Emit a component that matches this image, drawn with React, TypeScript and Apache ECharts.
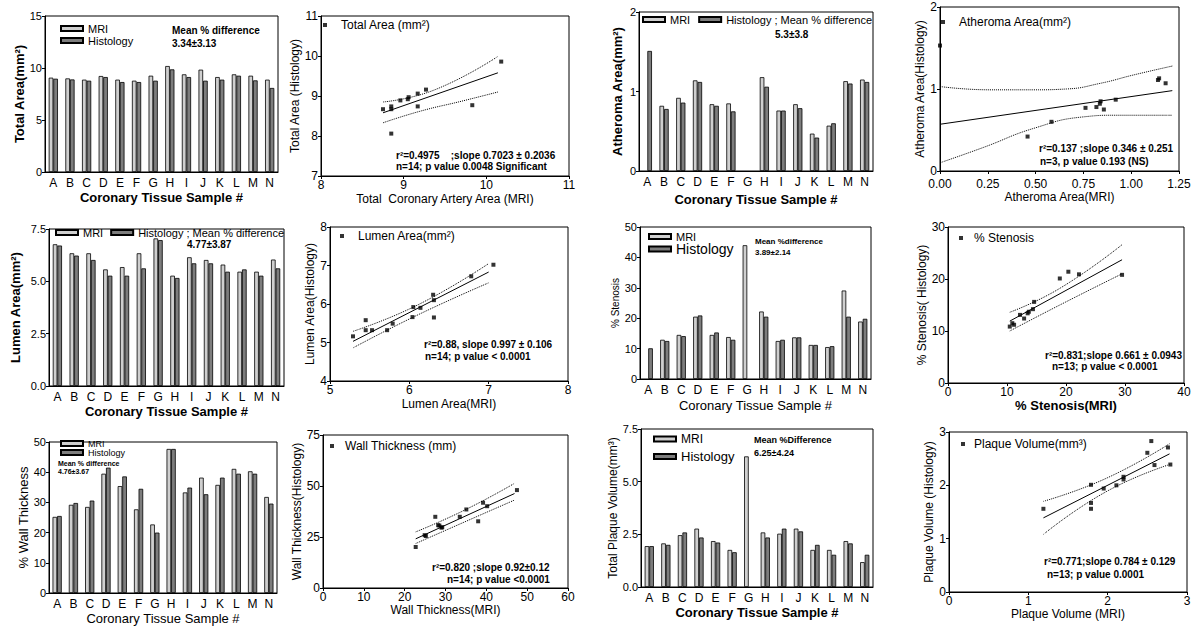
import React, { useEffect, useRef } from "react";
import * as echarts from "echarts";

const FONT = "'Liberation Sans', Arial, Helvetica, sans-serif";
const MRI_COLOR = "#cfcfcf";
const HIST_COLOR = "#7d7d7d";

const samples = ["A", "B", "C", "D", "E", "F", "G", "H", "I", "J", "K", "L", "M", "N"];

// ---- Total area ----
const totalAreaMRI = [9.07, 9.0, 8.88, 9.23, 8.88, 8.78, 9.26, 10.19, 9.39, 9.84, 9.13, 9.39, 9.26, 8.88];
const totalAreaHist = [8.97, 8.9, 8.78, 9.13, 8.65, 8.65, 8.78, 9.87, 9.13, 8.78, 8.88, 9.26, 8.81, 8.08];
const totalAreaPoints = [[8.75, 8.67], [8.85, 8.74], [8.85, 8.67], [8.85, 8.06], [8.96, 8.89], [9.05, 8.92], [9.06, 8.97], [9.17, 9.06], [9.17, 8.74], [9.27, 9.16], [9.83, 8.77], [10.18, 9.86]];
const totalAreaFit = [[8.75, 8.58], [10.14, 9.58]];
const totalAreaUpper = [[8.75, 8.85], [9.37, 9.15], [10.14, 9.99]];
const totalAreaLower = [[8.75, 8.33], [9.2, 8.62], [9.7, 8.87], [10.14, 9.1]];

// ---- Atheroma area ----
const atheromaMRI = [null, 0.82, 0.92, 1.14, 0.84, 0.85, null, 1.18, 0.76, 0.84, 0.47, 0.57, 1.13, 1.15];
const atheromaHist = [1.51, 0.78, 0.86, 1.12, 0.82, 0.75, null, 1.06, 0.76, 0.79, 0.42, 0.6, 1.1, 1.12];
const atheromaPoints = [[0, 1.53], [0.458, 0.42], [0.583, 0.6], [0.761, 0.77], [0.818, 0.78], [0.836, 0.82], [0.84, 0.85], [0.857, 0.75], [0.919, 0.87], [1.14, 1.11], [1.146, 1.13], [1.18, 1.07]];
const atheromaFit = [[0, 0.57], [1.215, 0.98]];
const atheromaUpper = [[0, 1.03], [0.26, 0.99], [0.49, 0.99], [0.66, 1.0], [0.84, 1.07], [1.01, 1.17], [1.215, 1.28]];
const atheromaLower = [[0, 0.1], [0.23, 0.29], [0.49, 0.52], [0.75, 0.66], [0.92, 0.68], [1.215, 0.68]];

// ---- Lumen area ----
const lumenMRI = [6.77, 6.34, 6.34, 5.57, 5.68, 6.34, 7.05, 5.27, 6.15, 6.02, 5.8, 5.46, 5.46, 6.04];
const lumenHist = [6.71, 6.23, 6.02, 5.27, 5.27, 5.62, 6.97, 5.16, 5.86, 5.86, 5.46, 5.57, 5.27, 5.62];
const lumenPoints = [[5.29, 5.16], [5.45, 5.58], [5.45, 5.32], [5.53, 5.32], [5.72, 5.32], [5.79, 5.49], [6.04, 5.66], [6.05, 5.92], [6.14, 5.9], [6.3, 6.24], [6.31, 6.1], [6.31, 5.65], [6.78, 6.72], [7.06, 7.02]];
const lumenFit = [[5.29, 5.03], [7.0, 6.83]];
const lumenUpper = [[5.29, 5.29], [6.11, 5.98], [7.0, 7.05]];
const lumenLower = [[5.29, 4.86], [6.11, 5.72], [7.0, 6.55]];

// ---- % Stenosis ----
const stenosisMRI = [null, 12.9, 14.5, 20.5, 14.5, 13.8, 44.0, 22.2, 12.5, 13.7, 11.2, 10.5, 29.1, 18.9];
const stenosisHist = [10.1, 12.5, 14.1, 20.9, 15.3, 12.9, null, 20.5, 12.9, 13.7, 11.2, 10.8, 20.5, 19.8];
const stenosisPoints = [[10.47, 10.85], [10.9, 11.5], [11.2, 11.2], [12.2, 13.1], [12.9, 12.4], [13.5, 13.4], [13.7, 13.7], [14.4, 14.2], [14.6, 15.6], [18.95, 20.1], [20.4, 21.4], [22.2, 20.9], [29.5, 20.8]];
const stenosisFit = [[10.47, 11.9], [29.5, 23.7]];
const stenosisUpper = [[10.47, 13.6], [18.95, 18.2], [29.5, 26.6]];
const stenosisLower = [[10.47, 10.0], [18.95, 15.0], [29.5, 21.0]];

// ---- % Wall thickness ----
const wallMRI = [25.2, 29.2, 28.5, 39.5, 35.4, 27.7, 22.7, 47.7, 33.3, 38.2, 35.8, 41.1, 40.3, 31.8];
const wallHist = [25.5, 29.8, 30.6, 41.5, 38.6, 34.5, 20.0, 47.7, 34.9, 32.7, 38.2, 39.5, 39.5, 29.6];
const wallPoints = [[22.7, 20.1], [24.9, 25.9], [25.2, 25.5], [27.5, 34.9], [28.2, 30.8], [28.5, 30.6], [29.0, 29.6], [29.2, 29.8], [33.5, 34.9], [35.1, 38.5], [38.0, 32.7], [39.2, 41.8], [40.2, 40.1], [47.5, 48.0]];
const wallFit = [[22.7, 24.1], [46.9, 46.3]];
const wallUpper = [[22.7, 27.5], [34.7, 38.2], [46.9, 51.3]];
const wallLower = [[22.7, 21.8], [34.7, 32.4], [46.9, 43.1]];

// ---- Plaque volume ----
const plaqueMRI = [1.94, 2.07, 2.46, 2.77, 2.18, 1.76, 6.2, 2.59, 2.53, 2.77, 1.76, 1.76, 2.18, 1.18];
const plaqueHist = [1.94, 2.0, 2.59, 2.35, 2.11, 1.65, null, 2.35, 2.77, 2.64, 2.0, 1.53, 2.07, 1.53];
const plaquePoints = [[1.19, 1.56], [1.79, 2.01], [1.79, 1.67], [1.79, 1.56], [1.95, 1.94], [2.11, 2.0], [2.2, 2.11], [2.2, 2.16], [2.5, 2.61], [2.55, 2.83], [2.59, 2.38], [2.76, 2.71], [2.79, 2.39]];
const plaqueFit = [[1.19, 1.39], [2.78, 2.59]];
const plaqueUpper = [[1.19, 1.7], [1.98, 2.13], [2.78, 2.78]];
const plaqueLower = [[1.19, 1.08], [1.98, 1.88], [2.78, 2.39]];

const barPanels: any[] = [
  {
    box: [45, 16, 233, 156], mri: totalAreaMRI, hist: totalAreaHist, yMax: 15, yInt: 5, yDec: 0,
    yName: "Total Area(mm²)", yGap: 13, yW: "bold", yS: 13,
    xName: "Coronary Tissue Sample #", xGap: 19, xW: "bold",
    legend: { left: 60, top: 23, orient: "vertical", itemGap: 1, fontSize: 11, histSize: 11 },
    notes: [["Mean % difference", 172, 30, 10], ["3.34±3.13", 172, 43, 10]],
  },
  {
    box: [639, 12, 234, 159], mri: atheromaMRI, hist: atheromaHist, yMax: 2, yInt: 1, yDec: 0,
    yName: "Atheroma Area(mm²)", yGap: 15, yW: "bold", yS: 13,
    xName: "Coronary Tissue Sample #", xGap: 22, xW: "bold",
    legend: { left: 642, top: 14, orient: "horizontal", itemGap: 8, fontSize: 11, histSize: 11, histLabel: "Histology ; Mean % difference" },
    notes: [["5.3±3.8", 775, 34, 10]],
  },
  {
    box: [49, 229, 235, 157], mri: lumenMRI, hist: lumenHist, yMax: 7.5, yInt: 2.5, yDec: 1,
    yName: "Lumen Area(mm²)", yGap: 27, yW: "bold", yS: 13,
    xName: "Coronary Tissue Sample #", xGap: 19, xW: "bold",
    legend: { left: 55, top: 227, orient: "horizontal", itemGap: 7, fontSize: 11, histSize: 11, histLabel: "Histology ; Mean % difference" },
    notes: [["4.77±3.87", 187, 244, 10]],
  },
  {
    box: [640, 227, 231, 152], mri: stenosisMRI, hist: stenosisHist, yMax: 50, yInt: 10, yDec: 0,
    yName: "% Stenosis", yGap: 20, yW: "normal", yS: 10,
    xName: "Coronary Tissue Sample #", xGap: 20, xW: "normal",
    legend: { left: 648, top: 231, orient: "vertical", itemGap: 0, fontSize: 11, histSize: 14 },
    notes: [["Mean %difference", 755, 241, 8], ["3.89±2.14", 755, 252, 8]],
  },
  {
    box: [49, 442, 228, 151], mri: wallMRI, hist: wallHist, yMax: 50, yInt: 10, yDec: 0,
    yName: "% Wall Thickness", yGap: 17, yW: "normal", yS: 13,
    xName: "Coronary Tissue Sample #", xGap: 19, xW: "normal",
    legend: { left: 60, top: 439, orient: "vertical", itemGap: 0, fontSize: 9, histSize: 9 },
    notes: [["Mean % difference", 58, 463, 7], ["4.76±3.67", 58, 471, 7]],
  },
  {
    box: [641, 429, 232, 158], mri: plaqueMRI, hist: plaqueHist, yMax: 7.5, yInt: 2.5, yDec: 1,
    yName: "Total Plaque Volume(mm³)", yGap: 20, yW: "normal", yS: 12,
    xName: "Coronary Tissue Sample #", xGap: 19, xW: "bold",
    legend: { left: 653, top: 433, orient: "vertical", itemGap: 5, fontSize: 12, histSize: 13 },
    notes: [["Mean %Difference", 754, 440, 9], ["6.25±4.24", 754, 453, 9]],
  },
];

const scatterPanels: any[] = [
  {
    box: [321, 16, 248, 160], x: [8, 11, 1, 0], y: [7, 11, 1, 0], xMargin: 3,
    xName: "Total  Coronary Artery Area (MRI)", xGap: 17, xW: "normal",
    yName: "Total Area (Histology)", yGap: 17,
    label: "Total Area (mm²)", points: totalAreaPoints, fit: totalAreaFit, upper: totalAreaUpper, lower: totalAreaLower,
    leg: [323, 19, 9],
    notes: [["r²=0.4975    ;slope 0.7023 ± 0.2036", 396, 155], ["n=14; p value 0.0048 Significant", 396, 166]],
  },
  {
    box: [940, 7, 239, 164], x: [0, 1.25, 0.25, 2], y: [0, 2, 1, 0], xMargin: 7,
    xName: "Atheroma Area(MRI)", xGap: 19, xW: "normal",
    yName: "Atheroma Area(Histology)", yGap: 7,
    label: "Atheroma Area(mm²)", points: atheromaPoints, fit: atheromaFit, upper: atheromaUpper, lower: atheromaLower,
    leg: [941, 16, 9],
    notes: [["r²=0.137 ;slope 0.346 ± 0.251", 1039, 148], ["n=3, p value 0.193 (NS)", 1040, 161]],
  },
  {
    box: [330, 227, 238, 154], x: [5, 8, 1, 0], y: [4, 8, 1, 0], xMargin: 3,
    xName: "Lumen Area(MRI)", xGap: 17, xW: "normal",
    yName: "Lumen Area(Histology)", yGap: 14,
    label: "Lumen Area(mm²)", points: lumenPoints, fit: lumenFit, upper: lumenUpper, lower: lumenLower,
    leg: [340, 230, 9],
    notes: [["r²=0.88, slope 0.997 ± 0.106", 424, 344], ["n=14; p value < 0.0001", 425, 356]],
  },
  {
    box: [948, 227, 236, 156], x: [0, 40, 10, 0], y: [0, 30, 10, 0], xMargin: 3,
    xName: "% Stenosis(MRI)", xGap: 15, xW: "bold",
    yName: "% Stenosis( Histology)", yGap: 17,
    label: "% Stenosis", points: stenosisPoints, fit: stenosisFit, upper: stenosisUpper, lower: stenosisLower,
    leg: [959, 232, 6],
    notes: [["r²=0.831;slope 0.661 ± 0.0943", 1045, 355], ["n=13; p value < 0.0001", 1052, 366]],
  },
  {
    box: [323, 435, 245, 153], x: [0, 60, 10, 0], y: [0, 75, 25, 0], xMargin: 3,
    xName: "Wall Thickness(MRI)", xGap: 14, xW: "normal",
    yName: "Wall Thickness(Histology)", yGap: 20,
    label: "Wall Thickness (mm)", points: wallPoints, fit: wallFit, upper: wallUpper, lower: wallLower,
    leg: [330, 440, 6],
    notes: [["r²=0.820 ;slope 0.92±0.12", 432, 567], ["n=14; p value <0.0001", 447, 579]],
  },
  {
    box: [949, 432, 238, 160], x: [0, 3, 1, 0], y: [0, 3, 1, 0], xMargin: 3,
    xName: "Plaque Volume (MRI)", xGap: 13, xW: "normal",
    yName: "Plaque Volume (Histology)", yGap: 11,
    label: "Plaque Volume(mm³)", points: plaquePoints, fit: plaqueFit, upper: plaqueUpper, lower: plaqueLower,
    leg: [961, 438, 4],
    notes: [["r²=0.771;slope 0.784 ± 0.129", 1044, 561], ["n=13; p value 0.0001", 1047, 574]],
  },
];

function buildOption() {
  const grid: any[] = [];
  const xAxis: any[] = [];
  const yAxis: any[] = [];
  const series: any[] = [];
  const legend: any[] = [];
  const graphic: any[] = [];

  const addText = (text: string, x: number, y: number, size: number, weight = "normal") =>
    graphic.push({
      type: "text", x, y, silent: true,
      style: { text, fontFamily: FONT, fontSize: size, fontWeight: weight, fill: "#000", align: "left", verticalAlign: "middle" },
    });

  const line = { show: true, lineStyle: { color: "#000", width: 1 } };
  const tick = { show: true, length: 3, lineStyle: { color: "#000", width: 1 } };
  const lbl = (size: number, margin: number, fmt?: any) => ({ color: "#000", fontFamily: FONT, fontSize: size, margin, formatter: fmt });
  const nts = (size: number, weight: string) => ({ color: "#000", fontFamily: FONT, fontSize: size, fontWeight: weight });
  const mkGrid = (b: number[]) => ({ left: b[0], top: b[1], width: b[2], height: b[3], show: true, borderColor: "#000", borderWidth: 1, backgroundColor: "transparent", containLabel: false });

  barPanels.forEach((p) => {
    const i = grid.length;
    grid.push(mkGrid(p.box));
    xAxis.push({
      gridIndex: i, type: "category", data: samples, boundaryGap: true,
      axisLine: line, axisTick: { show: false }, axisLabel: lbl(12, 5), splitLine: { show: false },
      name: p.xName, nameLocation: "middle", nameGap: p.xGap, nameTextStyle: nts(13, p.xW),
    });
    yAxis.push({
      gridIndex: i, type: "value", min: 0, max: p.yMax, interval: p.yInt,
      axisLine: line, axisTick: tick, axisLabel: lbl(11, 3, (v: number) => v.toFixed(p.yDec)), splitLine: { show: false },
      name: p.yName, nameLocation: "middle", nameGap: p.yGap, nameTextStyle: nts(p.yS, p.yW),
    });
    const common = { type: "bar", xAxisIndex: i, yAxisIndex: i, barWidth: 4.6, barGap: "0%", emphasis: { disabled: true } };
    series.push({ ...common, name: "MRI", data: p.mri, itemStyle: { color: MRI_COLOR, borderColor: "#000", borderWidth: 0.8 } });
    series.push({ ...common, name: "Histology", data: p.hist, itemStyle: { color: HIST_COLOR, borderColor: "#000", borderWidth: 0.8 } });
    const L = p.legend;
    legend.push({
      left: L.left, top: L.top, orient: L.orient, itemGap: L.itemGap, itemWidth: 22, itemHeight: 5, padding: 0,
      selectedMode: false,
      textStyle: { fontFamily: FONT, fontSize: L.fontSize, color: "#000" },
      formatter: (n: string) => (n === "Histology" && L.histLabel ? L.histLabel : n),
      data: [
        { name: "MRI", icon: "rect" },
        { name: "Histology", icon: "rect", textStyle: { fontSize: L.histSize } },
      ],
    });
    p.notes.forEach((n: any[]) => addText(n[0], n[1], n[2], n[3], "bold"));
  });

  scatterPanels.forEach((p) => {
    const i = grid.length;
    grid.push(mkGrid(p.box));
    xAxis.push({
      gridIndex: i, type: "value", min: p.x[0], max: p.x[1], interval: p.x[2],
      axisLine: line, axisTick: tick, axisLabel: lbl(12, p.xMargin, (v: number) => v.toFixed(p.x[3])), splitLine: { show: false },
      name: p.xName, nameLocation: "middle", nameGap: p.xGap, nameTextStyle: nts(p.xW === "bold" ? 13 : 12, p.xW),
    });
    yAxis.push({
      gridIndex: i, type: "value", min: p.y[0], max: p.y[1], interval: p.y[2],
      axisLine: line, axisTick: tick, axisLabel: lbl(12, 3, (v: number) => v.toFixed(p.y[3])), splitLine: { show: false },
      name: p.yName, nameLocation: "middle", nameGap: p.yGap, nameTextStyle: nts(12, "normal"),
    });
    series.push({
      type: "scatter", name: p.label, xAxisIndex: i, yAxisIndex: i, data: p.points,
      symbol: "rect", symbolSize: 4, itemStyle: { color: "#000" }, emphasis: { disabled: true }, z: 5,
    });
    const ln = (data: number[][], type: string, smooth: boolean) => ({
      type: "line", xAxisIndex: i, yAxisIndex: i, data, smooth, showSymbol: false, symbol: "none",
      lineStyle: { color: "#000", width: 1, type }, emphasis: { disabled: true }, silent: true,
    });
    series.push(ln(p.fit, "solid", false));
    series.push(ln(p.upper, "dotted", true));
    series.push(ln(p.lower, "dotted", true));
    legend.push({
      left: p.leg[0], top: p.leg[1], orient: "horizontal", itemWidth: 4, itemHeight: 4, padding: 0, selectedMode: false,
      textStyle: { fontFamily: FONT, fontSize: 12, color: "#000", padding: [0, 0, 0, p.leg[2]] },
      data: [{ name: p.label, icon: "rect" }],
    });
    p.notes.forEach((n: any[]) => addText(n[0], n[1], n[2], 10, "bold"));
  });

  return {
    animation: false,
    backgroundColor: "#fff",
    textStyle: { fontFamily: FONT },
    grid, xAxis, yAxis, series, legend, graphic,
  };
}

export default function App() {
  const ref = useRef<HTMLDivElement>(null);
  useEffect(() => {
    if (!ref.current) return;
    const chart = echarts.init(ref.current, null, { renderer: "svg" });
    chart.setOption(buildOption() as any);
    return () => chart.dispose();
  }, []);
  return <div ref={ref} style={{ position: "fixed", left: 0, top: 0, width: 1200, height: 638, background: "#fff" }} />;
}
